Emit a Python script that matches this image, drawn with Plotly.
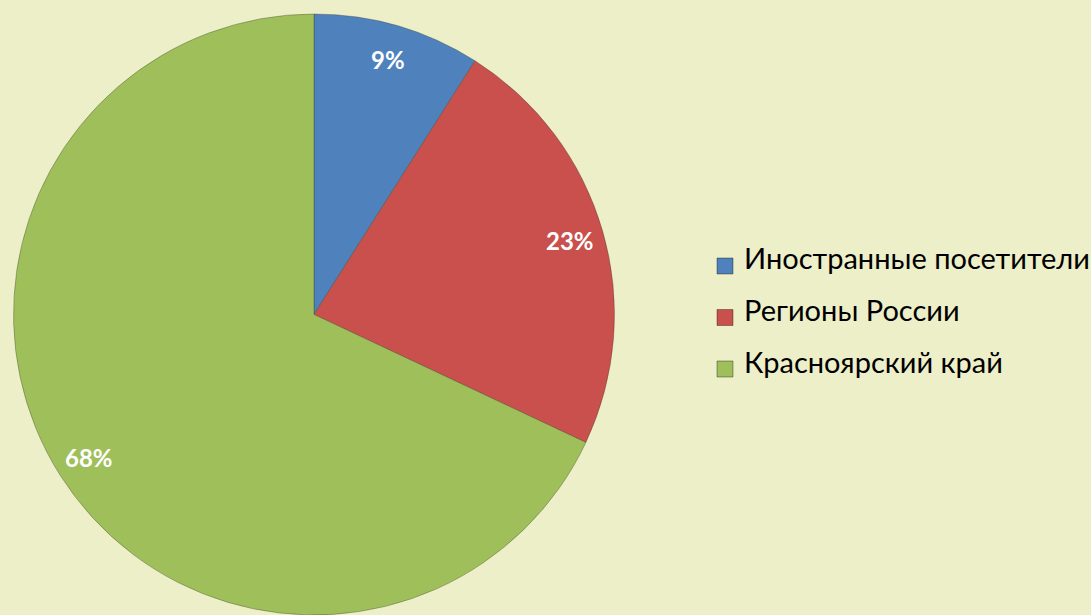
import math
import plotly.graph_objects as go

categories = ["Иностранные посетители", "Регионы России", "Красноярский край"]
values = [9, 23, 68]
colors = ["#4F81BD", "#C9504D", "#9FBF5A"]

W, H = 1091, 615
BG = "#EDEFC9"

# pie geometry (pixels)
pie_left, pie_right = 13, 615
pie_top = 14
R = (pie_right - pie_left) / 2
cx = (pie_left + pie_right) / 2
cy = pie_top + R

fig = go.Figure()
fig.add_trace(go.Pie(
    labels=categories,
    values=values,
    sort=False,
    direction="clockwise",
    rotation=0,
    textinfo="none",
    hoverinfo="label+percent",
    marker=dict(colors=colors, line=dict(color="rgba(60,60,40,0.35)", width=1)),
    domain=dict(x=[pie_left / W, pie_right / W], y=[0, 1 - pie_top / H]),
    showlegend=False,
))

annotations = []
shapes = []
total = sum(values)
cum = 0
for v in values:
    mid = (cum + v / 2) / total * 2 * math.pi
    cum += v
    rl = 0.885 * R
    px = cx + rl * math.sin(mid)
    py = cy - rl * math.cos(mid)
    annotations.append(dict(
        x=px / W, y=1 - py / H, xref="paper", yref="paper",
        text=f"<b>{round(v / total * 100)}%</b>", showarrow=False,
        font=dict(family="Lato", size=24, color="white"),
        xanchor="center", yanchor="middle",
    ))

# legend (manual, to match spacing)
leg_x_sq = 717
leg_x_txt = 742
leg_y0 = 262
leg_dy = 51.5
for i, (c, col) in enumerate(zip(categories, colors)):
    yc = leg_y0 + i * leg_dy
    shapes.append(dict(
        type="rect", xref="paper", yref="paper",
        x0=leg_x_sq / W, x1=(leg_x_sq + 16) / W,
        y0=1 - (yc - 4) / H, y1=1 - (yc + 12) / H,
        fillcolor=col, line=dict(color="rgba(0,0,0,0.35)", width=1),
    ))
    annotations.append(dict(
        x=leg_x_txt / W, y=1 - (yc - 4) / H, xref="paper", yref="paper",
        text=c, showarrow=False,
        font=dict(family="Lato", size=29, color="black"),
        xanchor="left", yanchor="middle",
    ))

fig.update_layout(
    width=W, height=H,
    margin=dict(l=0, r=0, t=0, b=0),
    paper_bgcolor=BG, plot_bgcolor=BG,
    annotations=annotations, shapes=shapes,
    showlegend=False,
)

fig.write_html(
    "out.html",
    config={"displayModeBar": False},
    post_script="document.body.style.margin='0';document.body.style.overflow='hidden';"
                "document.body.style.background='" + BG + "';",
)
